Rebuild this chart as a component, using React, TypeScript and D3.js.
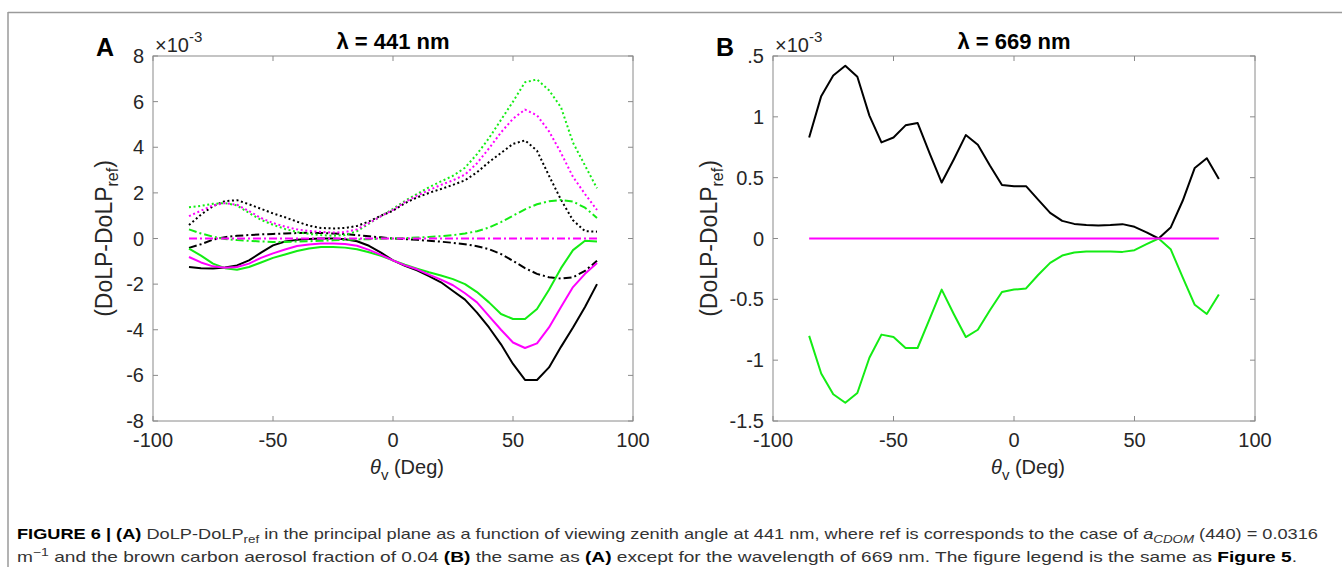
import React from 'react';
import * as d3 from 'd3';

// viewing zenith angle (deg)
const THETA = [-85, -80, -75, -70, -65, -60, -55, -50, -45, -40, -35, -30, -25, -20, -15, -10, -5, 0,
  5, 10, 15, 20, 25, 30, 35, 40, 45, 50, 55, 60, 65, 70, 75, 80, 85];

// Panel A, 441 nm (x10^-3)
const A_BLACK_SOLID = [-1.25, -1.3, -1.32, -1.27, -1.18, -0.96, -0.62, -0.3, -0.13, -0.06, -0.02, 0, 0, -0.03, -0.12, -0.32, -0.62, -0.96,
  -1.2, -1.4, -1.65, -1.92, -2.3, -2.68, -3.25, -3.9, -4.64, -5.5, -6.2, -6.2, -5.65, -4.75, -3.9, -3.0, -2.0];
const A_BLACK_DOT = [0.59, 1.05, 1.42, 1.64, 1.68, 1.5, 1.3, 1.1, 0.93, 0.74, 0.56, 0.46, 0.44, 0.46, 0.55, 0.75, 1.0, 1.22,
  1.55, 1.8, 2.0, 2.17, 2.35, 2.55, 2.9, 3.35, 3.75, 4.15, 4.3, 3.85, 2.75, 1.7, 0.8, 0.32, 0.3];
const A_BLACK_DASHDOT = [-0.41, -0.25, -0.05, 0.06, 0.12, 0.15, 0.18, 0.2, 0.22, 0.24, 0.25, 0.24, 0.22, 0.19, 0.15, 0.1, 0.05, 0,
  -0.03, -0.06, -0.1, -0.14, -0.19, -0.25, -0.34, -0.47, -0.68, -0.98, -1.3, -1.55, -1.7, -1.76, -1.7, -1.42, -0.98];
const A_GREEN_SOLID = [-0.44, -0.75, -1.1, -1.3, -1.37, -1.25, -1.05, -0.85, -0.7, -0.55, -0.44, -0.37, -0.37, -0.4, -0.47, -0.6, -0.76, -0.96,
  -1.15, -1.32, -1.48, -1.62, -1.78, -2.0, -2.35, -2.8, -3.31, -3.53, -3.53, -3.09, -2.25, -1.3, -0.51, -0.1, -0.13];
const A_GREEN_DOT = [1.37, 1.43, 1.52, 1.55, 1.45, 1.12, 0.82, 0.6, 0.42, 0.28, 0.2, 0.15, 0.12, 0.15, 0.32, 0.65, 0.98, 1.3,
  1.65, 1.95, 2.25, 2.5, 2.75, 3.1, 3.7, 4.4, 5.2, 6.0, 6.85, 6.97, 6.5, 5.75, 4.2, 3.2, 2.2];
const A_GREEN_DASHDOT = [0.4, 0.22, 0.08, -0.02, -0.07, -0.1, -0.13, -0.15, -0.15, -0.13, -0.12, -0.1, -0.08, -0.06, -0.04, -0.03, -0.01, 0,
  0.02, 0.04, 0.07, 0.1, 0.15, 0.22, 0.32, 0.48, 0.72, 1.0, 1.28, 1.5, 1.63, 1.69, 1.62, 1.35, 0.9];
const A_MAGENTA_SOLID = [-0.81, -1.05, -1.22, -1.28, -1.25, -1.1, -0.85, -0.65, -0.48, -0.33, -0.26, -0.22, -0.22, -0.24, -0.32, -0.5, -0.72, -0.96,
  -1.18, -1.35, -1.58, -1.8, -2.05, -2.4, -2.8, -3.4, -4.0, -4.56, -4.8, -4.6, -3.9, -3.0, -2.13, -1.55, -1.07];
const A_MAGENTA_DOT = [0.98, 1.22, 1.45, 1.55, 1.48, 1.2, 0.9, 0.68, 0.52, 0.4, 0.33, 0.29, 0.26, 0.28, 0.4, 0.68, 0.98, 1.25,
  1.6, 1.88, 2.12, 2.35, 2.55, 2.8, 3.3, 3.95, 4.65, 5.25, 5.65, 5.4, 4.7, 3.75, 2.7, 1.95, 1.25];
const A_MAGENTA_DASHDOT = [0, 0, 0, 0, 0, 0, 0, 0, 0, 0, 0, 0, 0, 0, 0, 0, 0, 0,
  0, 0, 0, 0, 0, 0, 0, 0, 0, 0, 0, 0, 0, 0, 0, 0, 0];

// Panel B, 669 nm (x10^-3)
const B_BLACK = [0.83, 1.17, 1.34, 1.42, 1.33, 1.01, 0.79, 0.83, 0.93, 0.95, 0.7, 0.46, 0.65, 0.85, 0.77, 0.6, 0.44, 0.43,
  0.43, 0.32, 0.21, 0.145, 0.12, 0.11, 0.107, 0.11, 0.118, 0.096, 0.05, 0.0, 0.09, 0.31, 0.58, 0.66, 0.49];
const B_GREEN = [-0.8, -1.11, -1.28, -1.35, -1.27, -0.98, -0.79, -0.81, -0.9, -0.9, -0.66, -0.42, -0.62, -0.81, -0.75, -0.59, -0.44, -0.42,
  -0.41, -0.3, -0.2, -0.14, -0.115, -0.107, -0.107, -0.107, -0.11, -0.096, -0.047, 0, -0.088, -0.32, -0.545, -0.62, -0.46];
const B_MAGENTA = [0, 0, 0, 0, 0, 0, 0, 0, 0, 0, 0, 0, 0, 0, 0, 0, 0, 0,
  0, 0, 0, 0, 0, 0, 0, 0, 0, 0, 0, 0, 0, 0, 0, 0, 0];

const X_TICKS = [-100, -50, 0, 50, 100];
const A_Y_TICKS = [-8, -6, -4, -2, 0, 2, 4, 6, 8];
const A_Y_LABELS = ['-8', '-6', '-4', '-2', '0', '2', '4', '6', '8'];
const B_Y_TICKS = [-1.5, -1, -0.5, 0, 0.5, 1, 1.5];
const B_Y_LABELS = ['-1.5', '-1', '-0.5', '0', '0.5', '1', '.5'];

const BLACK = '#000000';
const GREEN = '#14ec14';
const MAGENTA = '#ff00ff';
const DOT = '2,2.6';
const DASHDOT = '8,3,2,3';

const FONT = '"Liberation Sans", Arial, Helvetica, sans-serif';
const INK = '#262626';

type Series = { values: number[]; color: string; dash?: string };

function Panel({ left, right, top, bottom, yDomain, yTicks, yLabels, series, letter, title, labelGap }: {
  left: number; right: number; top: number; bottom: number; yDomain: [number, number];
  yTicks: number[]; yLabels: string[]; series: Series[]; letter: string; title: string; labelGap: number;
}) {
  const x = d3.scaleLinear().domain([-100, 100]).range([left, right]);
  const y = d3.scaleLinear().domain(yDomain).range([bottom, top]);
  const line = d3.line<number>().x((_, i) => x(THETA[i])).y(d => y(d));
  const tk = 5;
  const cx = (left + right) / 2;
  const cy = (top + bottom) / 2;

  return (
    <g fontFamily={FONT}>
      {series.map((s, i) => (
        <path key={i} d={line(s.values) || ''} fill="none" stroke={s.color} strokeWidth={2}
          strokeDasharray={s.dash} strokeLinejoin="round" />
      ))}
      <rect x={left} y={top} width={right - left} height={bottom - top} fill="none" stroke="#8a8a8a" strokeWidth={1} />
      {X_TICKS.map(t => (
        <g key={'x' + t}>
          <line x1={x(t)} x2={x(t)} y1={bottom} y2={bottom - tk} stroke="#8a8a8a" />
          <line x1={x(t)} x2={x(t)} y1={top} y2={top + tk} stroke="#8a8a8a" />
          <text x={x(t)} y={bottom + 26} textAnchor="middle" fontSize={20} fill={INK}>{t}</text>
        </g>
      ))}
      {yTicks.map((t, i) => (
        <g key={'y' + t}>
          <line x1={left} x2={left + tk} y1={y(t)} y2={y(t)} stroke="#8a8a8a" />
          <line x1={right} x2={right - tk} y1={y(t)} y2={y(t)} stroke="#8a8a8a" />
          <text x={left - 9} y={y(t) + 7} textAnchor="end" fontSize={20} fill={INK}>{yLabels[i]}</text>
        </g>
      ))}
      <text x={left + 2} y={52} fontSize={20} fill={INK}>
        ×10<tspan fontSize={15} dy={-10}>-3</tspan>
      </text>
      <text x={cx} y={49} textAnchor="middle" fontSize={22} fontWeight="bold" fill="#000">{title}</text>
      <text x={left - 57} y={56} fontSize={25} fontWeight="bold" fill="#000">{letter}</text>
      <text x={cx + 14} y={474} textAnchor="middle" fontSize={20} fill={INK}>
        <tspan fontStyle="italic">θ</tspan><tspan fontSize={15} dy={6}>v</tspan><tspan dy={-6}> (Deg)</tspan>
      </text>
      <text transform={`translate(${left - labelGap},${cy}) rotate(-90)`} textAnchor="middle" fontSize={23} fill={INK}>
        (DoLP-DoLP<tspan fontSize={16} dy={6}>ref</tspan><tspan dy={-6}>)</tspan>
      </text>
    </g>
  );
}

export default function App() {
  const seriesA: Series[] = [
    { values: A_BLACK_SOLID, color: BLACK },
    { values: A_BLACK_DOT, color: BLACK, dash: DOT },
    { values: A_BLACK_DASHDOT, color: BLACK, dash: DASHDOT },
    { values: A_GREEN_SOLID, color: GREEN },
    { values: A_GREEN_DOT, color: GREEN, dash: DOT },
    { values: A_GREEN_DASHDOT, color: GREEN, dash: DASHDOT },
    { values: A_MAGENTA_SOLID, color: MAGENTA },
    { values: A_MAGENTA_DOT, color: MAGENTA, dash: DOT },
    { values: A_MAGENTA_DASHDOT, color: MAGENTA, dash: DASHDOT },
  ];
  const seriesB: Series[] = [
    { values: B_BLACK, color: BLACK },
    { values: B_GREEN, color: GREEN },
    { values: B_MAGENTA, color: MAGENTA },
  ];

  return (
    <svg width={1342} height={567} style={{ position: 'absolute', left: 0, top: 0, background: '#fff' }}>
      <line x1={8} x2={1342} y1={12.5} y2={12.5} stroke="#9a9a9a" strokeWidth={1.5} />
      <line x1={8} x2={8} y1={12} y2={567} stroke="#9a9a9a" strokeWidth={1.5} />
      <Panel left={153} right={633} top={56} bottom={421} yDomain={[-8, 8]} yTicks={A_Y_TICKS} yLabels={A_Y_LABELS}
        series={seriesA} letter="A" title="λ = 441 nm" labelGap={41} />
      <Panel left={773} right={1255} top={56} bottom={421} yDomain={[-1.5, 1.5]} yTicks={B_Y_TICKS} yLabels={B_Y_LABELS}
        series={seriesB} letter="B" title="λ = 669 nm" labelGap={56} />
      <g fontFamily={FONT} fontSize={15} fill="#333">
        <text x={17} y={539} textLength={1301} lengthAdjust="spacingAndGlyphs">
          <tspan fontWeight="bold" fill="#000">FIGURE 6 | (A)</tspan> DoLP-DoLP<tspan fontSize={11} dy={4}>ref</tspan>
          <tspan dy={-4}> in the principal plane as a function of viewing zenith angle at 441 nm, where ref is corresponds to the case of </tspan>
          <tspan fontStyle="italic">a</tspan><tspan fontStyle="italic" fontSize={11} dy={4}>CDOM</tspan>
          <tspan dy={-4}> (440) = 0.0316</tspan>
        </text>
        <text x={17} y={562} textLength={1280} lengthAdjust="spacingAndGlyphs">
          m<tspan fontSize={11} dy={-6}>−1</tspan><tspan dy={6}> and the brown carbon aerosol fraction of 0.04 </tspan>
          <tspan fontWeight="bold" fill="#000">(B)</tspan> the same as <tspan fontWeight="bold" fill="#000">(A)</tspan> except for
          the wavelength of 669 nm. The figure legend is the same as <tspan fontWeight="bold" fill="#000">Figure 5</tspan>.
        </text>
      </g>
    </svg>
  );
}
